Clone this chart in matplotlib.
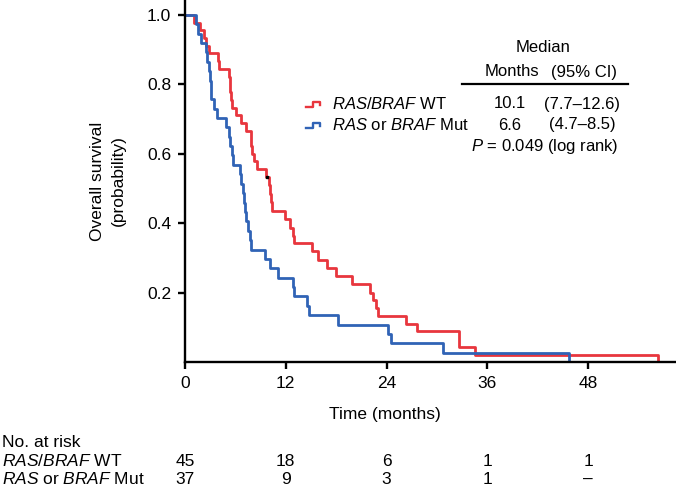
import matplotlib
matplotlib.use("Agg")
import matplotlib.pyplot as plt
from matplotlib.transforms import blended_transform_factory

plt.rcParams['font.family'] = ['Liberation Sans', 'DejaVu Sans']
plt.rcParams['mathtext.fontset'] = 'custom'
plt.rcParams['mathtext.rm'] = 'Liberation Sans'
plt.rcParams['mathtext.it'] = 'Liberation Sans:italic'

# === Data ===
wt_time = [0, 1.1, 1.8, 2.3, 2.5, 2.8, 3.9, 4.0, 5.2, 5.3, 5.4, 5.5, 5.6, 6.1, 6.7,
           7.3, 7.8, 7.9, 8.0, 8.2, 8.6, 9.6, 10.0, 10.1, 10.2, 10.3, 11.9, 12.5,
           12.9, 13.0, 15.1, 15.8, 16.9, 18.0, 19.9, 22.0, 22.4, 22.7, 23.0, 26.3,
           27.6, 32.6, 34.5, 56.3]
wt_surv = [1.0, 0.978, 0.956, 0.933, 0.911, 0.889, 0.867, 0.844, 0.822, 0.800, 0.778,
           0.756, 0.733, 0.711, 0.689, 0.667, 0.644, 0.622, 0.600, 0.578, 0.556, 0.533,
           0.509, 0.484, 0.460, 0.436, 0.412, 0.385, 0.362, 0.343, 0.320, 0.295, 0.270,
           0.248, 0.225, 0.200, 0.178, 0.155, 0.133, 0.110, 0.088, 0.044, 0.020, 0.0]
wt_censor_time = [9.8]
wt_censor_surv = [0.533]

mut_time = [0, 1.3, 1.6, 1.9, 2.5, 2.6, 2.9, 3.0, 3.05, 3.1, 3.5, 3.8, 4.9, 5.2, 5.4,
            5.6, 5.7, 6.6, 6.7, 6.9, 7.0, 7.1, 7.3, 7.5, 7.7, 7.9, 9.5, 10.1, 11.1,
            12.8, 13.0, 14.5, 14.8, 18.2, 24.2, 24.5, 30.7, 45.7]
mut_surv = [1.0, 0.973, 0.946, 0.919, 0.892, 0.865, 0.838, 0.811, 0.784, 0.757, 0.730,
            0.703, 0.676, 0.649, 0.622, 0.595, 0.568, 0.541, 0.514, 0.486, 0.459, 0.432,
            0.405, 0.378, 0.351, 0.324, 0.297, 0.270, 0.243, 0.216, 0.189, 0.162, 0.135,
            0.108, 0.081, 0.054, 0.027, 0.0]

risk_times = [0, 12, 24, 36, 48]
wt_risk = ['45', '18', '6', '1', '1']
mut_risk = ['37', '9', '3', '1', '\u2013']

groups = [r'$\mathit{RAS/BRAF}$ WT', r'$\mathit{RAS}$ or $\mathit{BRAF}$ Mut']
medians = ['10.1', '6.6']
cis = ['(7.7\u201312.6)', '(4.7\u20138.5)']

RED = '#e8363d'
BLUE = '#3063b6'
FS = 12.5
LFS = 12

W, H = 676, 486


def fxy(px, py):
    return px / W, 1 - py / H


fig = plt.figure(figsize=(W / 100, H / 100), dpi=100)
ax = fig.add_axes([185 / W, 1 - 362 / H, 491 / W, 362 / H])

ax.step(wt_time, wt_surv, where='post', color=RED, lw=2.0)
ax.step(mut_time, mut_surv, where='post', color=BLUE, lw=2.0)
ax.plot(wt_censor_time, wt_censor_surv, 's', color='black', ms=2)

ax.set_xlim(0, 58.45)
ax.set_ylim(0, 1.043)
ax.set_xticks(risk_times)
ax.set_yticks([0.2, 0.4, 0.6, 0.8, 1.0])
ax.set_yticklabels(['0.2', '0.4', '0.6', '0.8', '1.0'])
for s in ['top', 'right']:
    ax.spines[s].set_visible(False)
for s in ['left', 'bottom']:
    ax.spines[s].set_linewidth(1.7)
ax.tick_params(direction='out', length=5, width=1.7, labelsize=FS, pad=5)

ax.set_ylabel('Overall survival\n(probability)', fontsize=FS, linespacing=1.5)
ax.yaxis.set_label_coords(-0.12, 0.5)
ax.set_xlabel('Time (months)', fontsize=FS)
ax.xaxis.set_label_coords((385 - 185) / 491, -0.125)

# === Median table / legend ===
fig.text(*fxy(543, 48), 'Median', fontsize=LFS, ha='center', va='center')
fig.text(*fxy(512, 72), 'Months', fontsize=LFS, ha='center', va='center')
fig.text(*fxy(584, 72), '(95% CI)', fontsize=LFS, ha='center', va='center')
fig.add_artist(plt.Line2D([462 / W, 628 / W], [1 - 84 / H, 1 - 84 / H],
                          color='black', lw=1.6))

for i, (g, m, c, col) in enumerate(zip(groups, medians, cis, [RED, BLUE])):
    yy = 104 + i * 21
    xs = [306, 313, 313, 320, 320]
    ys = [yy + 3, yy + 3, yy - 2, yy - 2, yy + 1]
    fig.add_artist(plt.Line2D([x / W for x in xs], [1 - y / H for y in ys],
                              color=col, lw=1.7))
    fig.text(*fxy(332, yy), g, fontsize=LFS, ha='left', va='center')
    fig.text(*fxy(510, yy), m, fontsize=LFS, ha='center', va='center')
    fig.text(*fxy(582, yy), c, fontsize=LFS, ha='center', va='center')

fig.text(*fxy(545, 147), r'$\mathit{P}$ = 0.049 (log rank)', fontsize=LFS,
         ha='center', va='center')

# === Number at risk ===
tr = blended_transform_factory(ax.transData, fig.transFigure)
fig.text(*fxy(2, 442), 'No. at risk', fontsize=FS, ha='left', va='center')
for i, (g, row) in enumerate(zip(groups, [wt_risk, mut_risk])):
    yy = 461 + i * 18
    fig.text(*fxy(2, yy), g, fontsize=FS, ha='left', va='center')
    for t, n in zip(risk_times, row):
        ax.text(t, 1 - yy / H, n, transform=tr, fontsize=FS, ha='center',
                va='center', clip_on=False)

fig.savefig('out.png', dpi=100)
